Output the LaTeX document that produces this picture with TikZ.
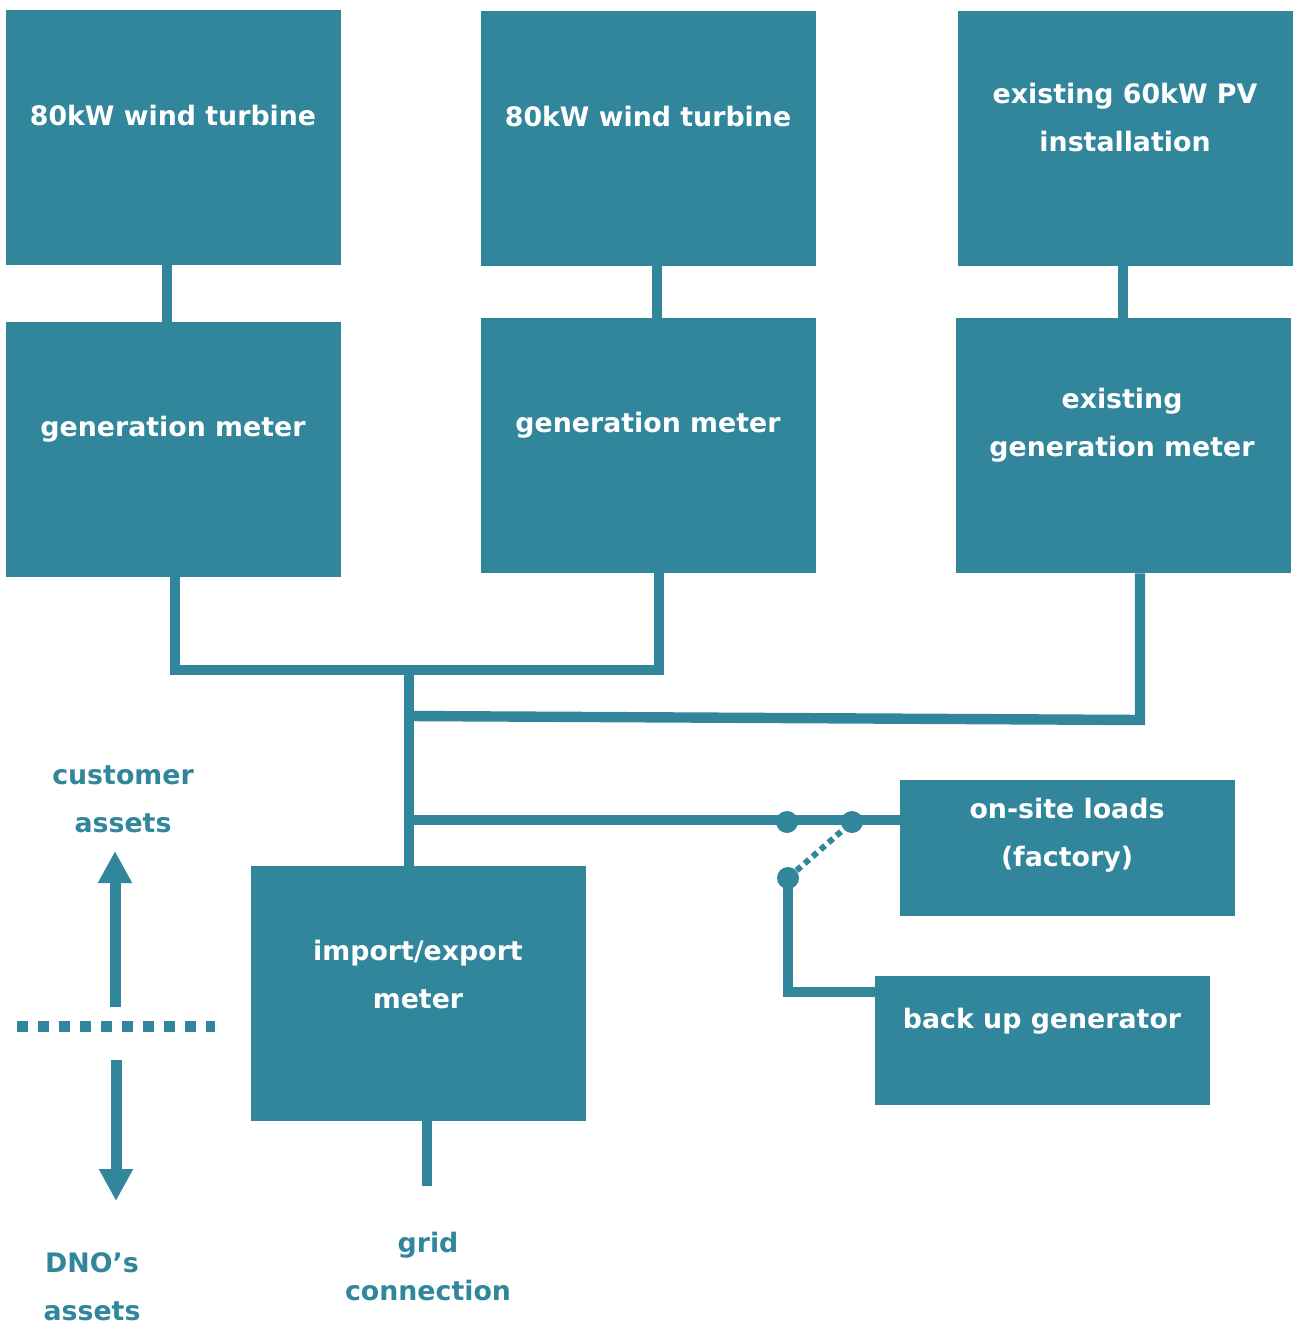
\documentclass[tikz,border=0pt]{standalone}
\usepackage{fontspec}
\setmainfont{DejaVu Sans}
\usetikzlibrary{arrows.meta}
\definecolor{teal}{RGB}{50,134,155}

\begin{document}
\begin{tikzpicture}[x=0.5pt,y=-0.5pt,
  box/.style={fill=teal,inner sep=0pt,minimum width=167.5pt,minimum height=127.5pt},
  boxtext/.style={text=white,font=\fontsize{13.4}{24}\selectfont\bfseries,align=center},
  sidetext/.style={text=teal,font=\fontsize{13.4}{24}\selectfont\bfseries,align=center},
  wire/.style={draw=teal,line width=5.2pt},
  dot/.style={circle,fill=teal,inner sep=0pt,minimum size=11pt},
  bigarrow/.style={draw=teal,line width=5.5pt,-{Triangle[width=16pt,length=16pt]}}]
\useasboundingbox (0,0) rectangle (1293,1325);

% boxes
\node[box] (wt1) at (173.5,137.5) {};
\node[box] (wt2) at (648.5,138.5) {};
\node[box] (pv) at (1125.5,138.5) {};
\node[box] (gm1) at (173.5,449.5) {};
\node[box] (gm2) at (648.5,445.5) {};
\node[box] (gm3) at (1123.5,445.5) {};
\node[box] (ie) at (418.5,993.5) {};
\node[box,minimum height=68pt] (loads) at (1067.5,848) {};
\node[box,minimum height=64.5pt] (backup) at (1042.5,1040.5) {};

% box texts
\node[boxtext] (wt1t) at (173,116) {80kW wind turbine};
\node[boxtext] (wt2t) at (648,117) {80kW wind turbine};
\node[boxtext] (pvt) at (1125,118) {existing 60kW PV\\installation};
\node[boxtext] (gm1t) at (173,429) {generation meter};
\node[boxtext] (gm2t) at (648,425) {generation meter};
\node[boxtext] (gm3t) at (1122,425) {existing\\generation meter};
\node[boxtext] (iet) at (418,974) {import/export\\meter};
\node[boxtext] (loadst) at (1067,835) {on-site loads\\(factory)};
\node[boxtext] (backupt) at (1042,1021) {back up generator};

% side texts
\node[sidetext] (cust) at (123,799) {customer\\assets};
\node[sidetext] (dno) at (92,1287) {DNO’s\\assets};
\node[sidetext] (grid) at (428,1266) {grid\\connection};

% junctions
\coordinate (t1) at (167,265);
\coordinate (t2) at (657,266);
\coordinate (t3) at (1123,266);
\coordinate (j1) at (175,670);
\coordinate (j2) at (659,670);
\coordinate (j3) at (409,670);
\coordinate (j4) at (409,716);
\coordinate (j5) at (1140,720);
\coordinate (j6) at (409,820);
\coordinate (g1) at (788,992);
\coordinate (gridend) at (427,1186);
\node[dot] (s1) at (787,822) {};
\node[dot] (s2) at (852,822) {};
\node[dot] (s3) at (788,878) {};

% wiring
\draw[wire] (t1) -- (t1 |- gm1.north);
\draw[wire] (t2) -- (t2 |- gm2.north);
\draw[wire] (t3) -- (t3 |- gm3.north);
\draw[wire] (gm1.south -| j1) -- (j1) -- (j2) -- (gm2.south -| j2);
\draw[wire] (j3) -- (ie.north -| j3);
\draw[wire] (j4) -- (j5) -- (gm3.south -| j5);
\draw[wire] (j6) -- (loads.west |- j6);
\draw[wire] (s3.center) -- (g1) -- (backup.west |- g1);
\draw[wire] (ie.south -| gridend) -- (gridend);
\draw[teal,line width=3pt,dash pattern=on 3pt off 2.3pt] (s3) -- (s2);

% boundary
\coordinate (up0) at (115,1007);
\coordinate (up1) at (115,851);
\coordinate (dn0) at (116,1060);
\coordinate (dn1) at (116,1201);
\draw[bigarrow] (up0) -- (up1);
\draw[bigarrow] (dn0) -- (dn1);
\coordinate (b0) at (17,1026);
\coordinate (b1) at (215,1026);
\draw[teal,line width=5.5pt,dash pattern=on 5.5pt off 5pt] (b0) -- (b1);
\end{tikzpicture}
\end{document}
